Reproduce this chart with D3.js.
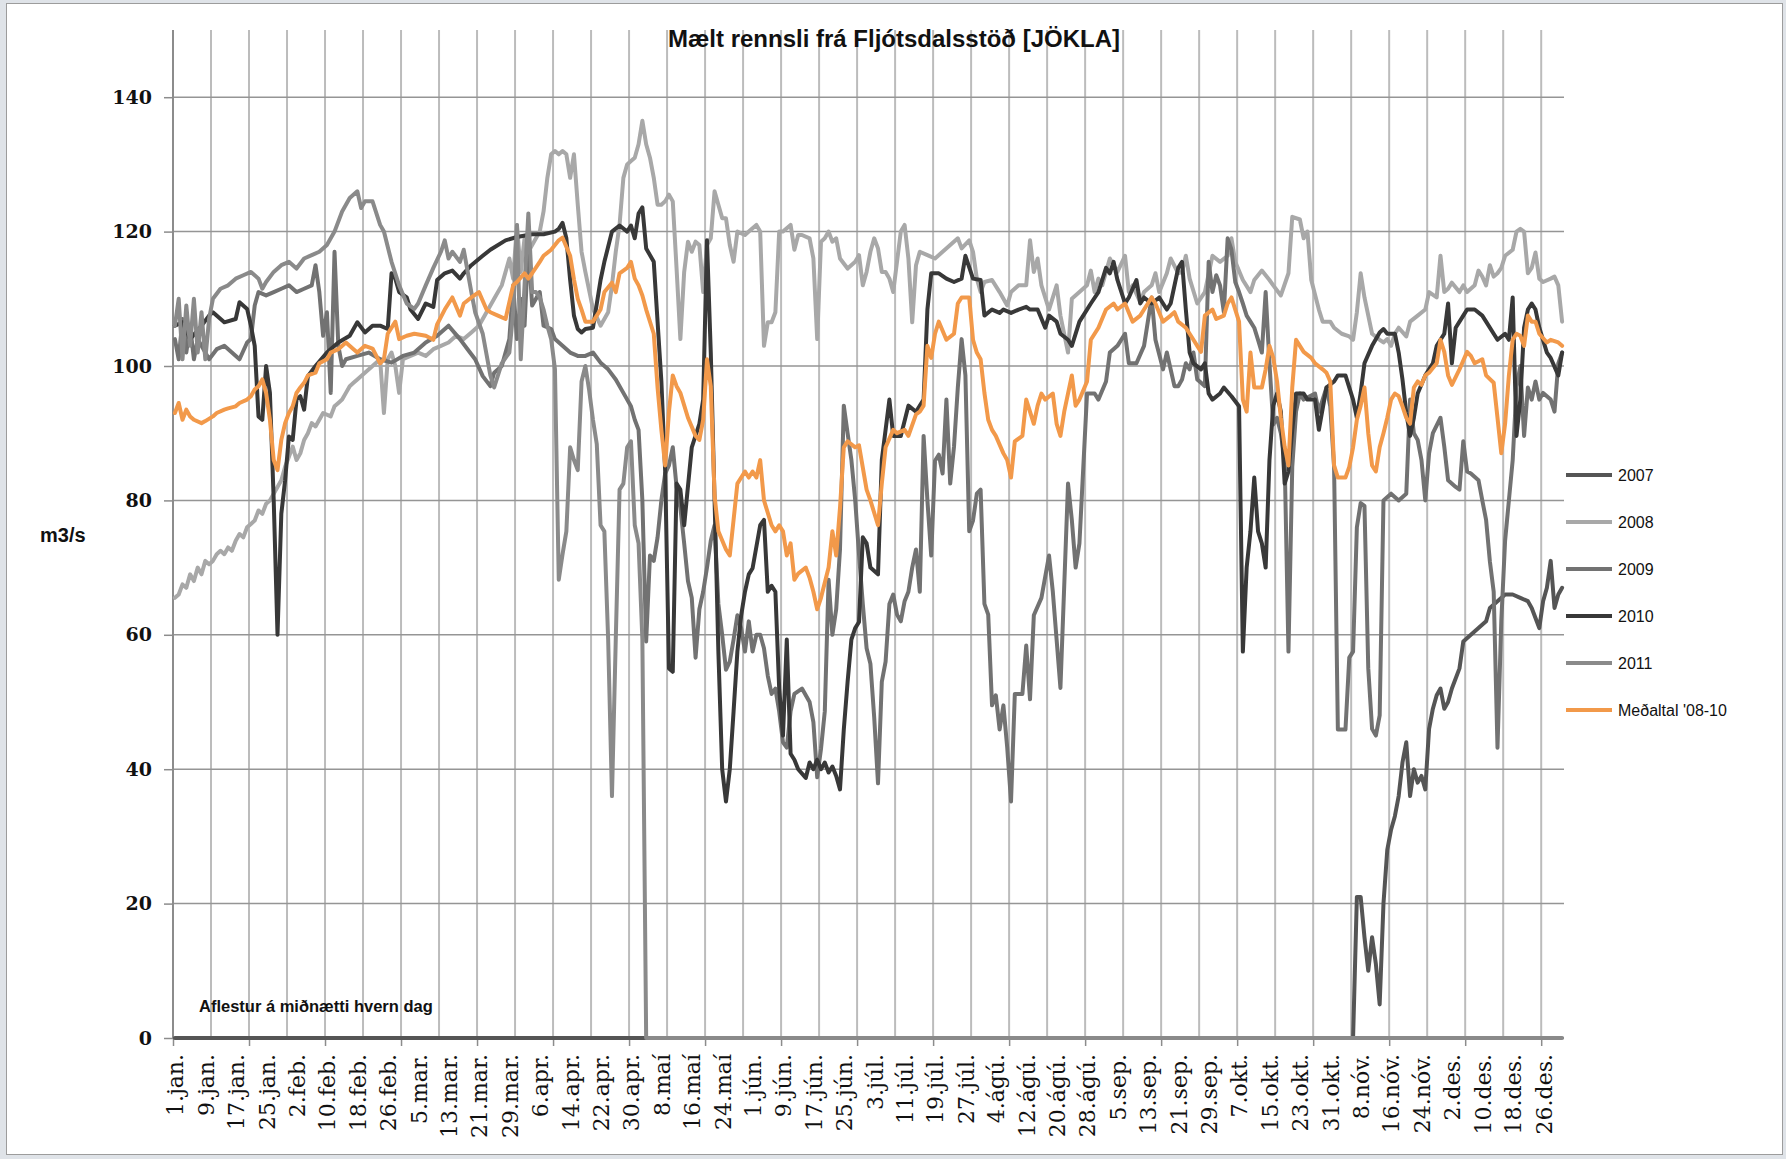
<!DOCTYPE html>
<html>
<head>
<meta charset="utf-8">
<script src="https://cdn.jsdelivr.net/npm/d3@7"></script>
<style>
  body { margin: 0; background: #dfe3e8; }
  svg { display: block; }
</style>
</head>
<body>
<svg id="chart" width="1786" height="1159"></svg>
<script>
// day index in a leap year (0 = 1.jan.), flow in m3/s
const s2007 = [[0,0],[310,0],[311,21],[312,21],[313,15],[314,10],[315,15],[316,11],[317,5],[318,20],[319,28],[320,31],[321,33],[322,36],[323,41],[324,44],[325,36],[326,40],[327,38],[328,39],[329,37],[330,46],[331,49],[332,51],[333,52],[334,49],[335,50],[336,52],[338,55],[339,59],[341,60],[343,61],[345,62],[346,64],[348,65],[350,66],[352,66],[354,65.5],[356,65],[357,64],[359,61],[360,65],[361,67],[362,71],[363,64],[364,66],[365,67]];

const s2008 = [[0,65.5],[1,66],[2,67.5],[3,67],[4,69],[5,68],[6,70],[7,69],[8,71],[9,70.5],[10,71],[11,72],[12,72.5],[13,72],[14,73],[15,72.5],[16,74],[17,75],[18,74.5],[19,76],[20,76.5],[21,77],[22,78.5],[23,78],[24,79.5],[25,80],[26,81],[27,82],[28,83],[29,85],[30,86.5],[31,88],[32,86],[33,87],[34,89],[35,90],[36,91.5],[37,91],[38,92],[39,93],[41,92.5],[42,94],[43,94.5],[44,95],[45,96],[46,97],[47,97.5],[48,98],[50,99],[52,100],[54,101],[55,93],[56,101],[57,102],[58,100],[59,96],[60,101],[62,101.5],[64,102],[66,101.5],[68,102.5],[70,103],[72,103.5],[74,104.5],[76,104],[78,105],[80,106],[82,108],[84,110],[86,112],[88,116],[89,113],[90,121],[91,114],[92,119],[93,117],[94,118],[95,119],[96,120],[97,123],[98,128],[99,131.5],[100,132],[101,131.5],[102,132],[103,131.5],[104,128],[105,131.5],[106,124],[107,117],[108,114],[110,108.5],[112,106],[114,108],[115,112],[116,117],[117,121],[118,128],[119,130],[120,130.5],[121,131],[122,133],[123,136.5],[124,133],[125,131],[126,128],[127,124],[128,124],[129,124.5],[130,125.5],[131,124.5],[132,114.5],[133,104],[134,114],[135,118.5],[136,117],[137,118.5],[138,118],[139,111],[140,118],[141,119],[142,126],[143,124],[144,122],[145,122],[146,118],[147,115.5],[148,120],[150,119.5],[151,120],[153,121],[154,120],[155,103],[156,106.5],[157,106.5],[158,108],[159,120],[160,120],[162,121],[163,117.3],[164,119.5],[165,119.5],[167,119],[168,116],[169,104],[170,118.5],[171,119],[172,120],[173,118.5],[174,119],[175,116],[177,114.5],[179,115.5],[180,116.5],[181,112],[182,114],[183,117],[184,119],[185,117.5],[186,114],[187,114],[188,113],[189,111],[190,115.5],[191,120],[192,121],[193,116],[194,106.5],[195,115],[196,117],[198,116.5],[200,116],[202,117],[204,118],[206,119],[207,117.5],[209,118.7],[210,117],[211,113],[212,111],[213,112.5],[215,112.8],[217,111],[219,109],[220,111],[222,112],[224,112],[225,118.7],[226,114],[227,116],[228,112],[230,108.4],[232,112],[233,107.5],[235,102],[236,110],[238,111],[240,112],[241,114.2],[242,111],[243,113],[244,112],[246,116],[247,115],[248,114],[250,116.4],[251,111],[252,112],[254,109.5],[255,111],[257,112],[258,113.8],[259,111],[261,113.8],[262,116],[264,113.8],[265,114],[266,116.4],[267,113],[269,109.3],[271,111],[273,116.4],[275,115.5],[277,116.4],[278,119],[279,115.5],[281,112.8],[283,111],[284,112.8],[286,114.2],[288,112.8],[289,112],[291,110.5],[293,113.8],[294,122.2],[296,121.8],[297,119],[298,120],[299,112.8],[301,108.4],[302,106.6],[304,106.6],[305,105.7],[307,104.8],[309,104.4],[310,103.9],[311,108],[312,113.8],[313,110.2],[315,104.8],[317,103.9],[318,103.5],[319,104],[320,103],[321,104.8],[322,105.7],[324,104.4],[325,106.6],[327,107.5],[329,108.4],[330,111],[332,110.2],[333,116.4],[334,111],[335,111.5],[336,112.4],[338,111],[339,112],[340,111],[342,112],[343,114.2],[344,113.3],[345,112],[346,115],[347,113.3],[348,113.8],[349,114.6],[350,116.4],[352,117.3],[353,120],[354,120.4],[355,120],[356,113.8],[357,114.6],[358,116.9],[359,113],[360,112.5],[362,113],[363,113.3],[364,112],[365,106.6]];

const s2009 = [[0,104],[1,101],[2,107],[3,102],[4,106],[5,101],[6,104],[7,103],[9,101],[11,102.5],[13,103],[15,102],[17,101],[19,103.5],[20,104],[21,109],[22,111],[24,110.5],[26,111],[28,111.5],[30,112],[32,111],[34,111.5],[36,112],[37,115],[38,111],[39,104.5],[40,108],[41,96],[42,117],[43,103],[44,100],[45,101],[48,101.5],[51,102],[54,101],[57,100.5],[60,101.5],[63,102],[66,103.5],[69,104.5],[72,106],[75,104],[77,102.5],[79,101],[81,98.5],[83,97],[84,99],[86,100],[88,104],[89,112],[90,104],[91,110],[92,106],[93,118],[94,109],[96,111],[97,106],[99,105.5],[100,104],[102,103],[104,102],[106,101.5],[108,101.5],[110,102],[112,100.5],[114,99.5],[116,98],[118,96],[120,94],[121,92],[122,90.5],[123,80],[124,59],[125,71.8],[126,71],[127,74.5],[128,80],[129,84],[130,85.2],[131,87.9],[132,82],[133,78.9],[134,73.6],[135,68],[136,65.5],[137,56.6],[138,63.8],[139,66.4],[140,70],[141,74],[142,76.3],[143,64.6],[144,60],[145,54.8],[146,56],[147,59.3],[148,62.9],[149,61],[150,57.5],[151,62],[152,57.5],[153,60],[154,60],[155,58],[156,53.9],[157,51.2],[158,52],[159,48.6],[160,44],[161,43.2],[162,48.6],[163,51.2],[165,52],[167,50],[168,47],[169,38.8],[170,43],[171,48.6],[172,68.2],[173,60],[174,63.8],[175,72.7],[176,94.1],[177,90],[178,86],[179,80],[180,72],[181,64.6],[182,58],[183,55.7],[184,47.7],[185,37.9],[186,53],[187,56],[188,64.6],[189,66],[190,63],[191,62],[192,65],[193,66.4],[194,70],[195,72.7],[196,66.4],[197,89.6],[198,80],[199,71.8],[200,85.9],[201,86.8],[202,84],[203,95],[204,82.5],[205,88],[206,96.8],[207,104],[208,98.6],[209,75.4],[210,77],[211,81],[212,81.6],[213,64.6],[214,63],[215,49.5],[216,51],[217,45.9],[218,49.5],[219,43.2],[220,35.2],[221,51.2],[223,51.2],[224,58.4],[225,50.4],[226,62.9],[228,65.5],[230,71.8],[231,66.4],[233,52.1],[235,82.5],[236,77.1],[237,70],[238,73.6],[240,95.9],[242,95.9],[243,95],[245,97.7],[246,102],[248,103],[250,104.8],[251,100.4],[253,100.4],[255,103],[256,106.6],[257,110.2],[258,103.9],[260,99.5],[261,102],[263,97],[264,97],[265,98],[266,100.4],[267,99.5],[268,102],[269,98],[270,97.5],[271,97],[272,115.5],[273,111],[274,113.5],[275,112],[276,108],[277,119],[278,117.3],[279,112.5],[280,111],[281,109.3],[282,107.5],[283,106.6],[284,105.7],[285,103.9],[286,102],[287,111],[288,100.4],[289,91.3],[290,92.3],[291,90],[292,86],[293,57.5],[294,85],[295,93.2],[296,95.9],[297,95],[300,95.9],[301,93.2],[303,96.8],[304,94],[305,85],[306,45.9],[308,45.9],[309,56.6],[310,57.5],[311,76],[312,79.6],[313,79.2],[314,55],[315,46],[316,45],[317,48],[318,80],[320,81],[322,80],[324,81],[325,95],[326,90],[327,89],[328,86],[329,80],[330,87],[331,90],[333,92.3],[334,88],[335,83],[337,82],[338,81.6],[339,88.8],[340,84.3],[341,84],[343,83],[344,80],[345,77.1],[346,70.9],[347,66.4],[348,43.2],[349,62],[350,74],[351,80],[352,86],[353,96.8],[354,100],[355,89.6],[356,96.8],[357,95],[358,97.7],[359,95],[360,96],[362,95],[363,93.2],[364,100.4],[365,102]];

const s2010 = [[0,106],[2,106.5],[4,104],[7,106],[9,107.5],[10,108],[13,106.5],[16,107],[17,109.5],[19,108.5],[20,106],[21,103],[22,92.5],[23,92],[24,100],[25,96],[26,80],[27,60],[28,78],[29,83],[30,89.5],[31,89],[32,95],[33,95.5],[34,93.5],[35,98.5],[37,100],[40,102],[43,103.5],[46,104.5],[48,106.5],[50,105],[52,106],[54,106],[56,105.5],[57,113.8],[58,113],[59,111],[61,110.2],[62,108.4],[64,107],[66,109.3],[68,108.8],[69,112.8],[71,113.8],[73,114.2],[75,113],[76,113.8],[78,115],[81,116.4],[83,117.3],[87,118.7],[90,119.2],[94,119.6],[97,119.6],[100,120],[101,120.4],[102,121.3],[103,119],[104,112.8],[105,107.5],[106,105.5],[107,105],[108,105.5],[110,105.7],[112,112.8],[113,115.5],[115,120],[117,120.9],[119,120],[120,120.9],[121,119],[122,122.7],[123,123.6],[124,117.5],[126,115.5],[127,106.6],[128,97.7],[129,84.3],[130,55],[131,54.5],[132,82.5],[133,81.6],[134,76.3],[136,87.9],[138,91.4],[139,95],[140,118.7],[141,102],[142,80],[143,57.5],[144,40],[145,35.2],[146,40],[147,48.6],[148,57.5],[149,62.9],[150,66.4],[151,69],[152,69.9],[154,76.3],[155,77.1],[156,66.4],[157,67.3],[158,66.4],[159,52],[160,45],[161,59.3],[162,42.3],[163,41.4],[164,40],[166,38.7],[167,41],[168,40],[169,41.4],[170,40],[171,41],[172,39.5],[173,40.4],[174,39],[175,37],[176,45.9],[177,53],[178,59.3],[179,61],[180,61.9],[181,74.5],[182,73.6],[183,70],[185,69],[186,86],[188,95],[189,89.6],[191,89.6],[193,94.1],[195,93.2],[197,95],[198,108.4],[199,113.8],[201,113.8],[203,113],[205,112.5],[207,113],[208,116.4],[210,113],[212,112.8],[213,107.5],[215,108.4],[217,107.9],[218,108.4],[220,107.9],[222,108.4],[224,108.8],[225,108.4],[227,108.4],[229,105.7],[230,107.5],[232,106.6],[233,104.8],[235,103.9],[236,103],[238,106.6],[239,107.5],[241,109.3],[243,111],[245,114.6],[246,113.8],[247,115.5],[248,112.8],[250,109.3],[251,110.2],[253,112.8],[254,109.3],[255,110.2],[257,109.3],[259,110.2],[261,108.4],[262,109.3],[264,114.6],[265,115.5],[266,108.4],[267,102],[268,100.4],[270,99.5],[271,100.4],[272,95.9],[273,95],[275,95.9],[276,96.8],[278,95.5],[280,94],[281,57.5],[282,70],[283,75.4],[284,83.4],[285,75.4],[286,73.6],[287,70],[288,86],[289,94.1],[290,95.9],[291,93.2],[292,82.5],[293,84.3],[294,90.5],[295,95.9],[297,95.9],[298,95],[300,95],[301,90.5],[303,96.8],[305,97.7],[306,98.6],[308,98.6],[310,95],[311,92.3],[312,96],[313,100.4],[315,103],[317,105],[318,105.5],[319,104.8],[321,104.8],[322,102],[323,98],[324,93],[325,89.6],[326,92.3],[327,95.9],[329,98.6],[331,100.4],[332,103],[334,104.8],[335,109.3],[336,100.4],[337,105.7],[339,107.5],[340,108.4],[342,108.4],[344,107.5],[345,106.6],[347,104.8],[348,103.9],[350,104.8],[351,103.9],[352,110.2],[353,89.6],[354,95],[355,105.7],[356,108.4],[357,109.3],[358,108.4],[359,105.7],[361,102],[362,101.2],[364,98.6],[365,102]];

const s2011 = [[0,106],[1,110],[2,101],[3,109],[4,103],[5,110],[6,102],[7,108],[8,101],[9,107],[10,110],[12,111.5],[14,112],[16,113],[18,113.5],[20,114],[22,113],[23,111.5],[24,112.5],[26,114],[28,115],[30,115.5],[32,114.5],[34,116],[36,116.5],[38,117],[40,118],[42,120],[44,123],[46,125],[48,126],[49,123.5],[50,124.5],[52,124.5],[54,121],[55,120],[57,115.5],[59,112],[61,109.3],[63,108.5],[64,109.3],[66,112],[68,114.6],[70,117],[71,118.7],[72,116],[73,117],[75,115.5],[76,117.3],[78,111],[79,108],[81,104.8],[83,98.6],[84,96.8],[86,100.4],[88,102],[89,108],[90,121],[91,101],[92,112],[93,122.7],[94,111],[95,111],[96,110.2],[97,108.4],[98,106],[99,104],[100,99.5],[101,68.2],[102,72],[103,75.4],[104,87.9],[105,86],[106,84.5],[107,97.7],[108,100],[109,96.4],[110,92],[111,88.4],[112,76.3],[113,75.4],[114,59.3],[115,36],[116,59.3],[117,81.6],[118,82.5],[119,87.9],[120,88.8],[121,76.3],[122,73.6],[123,59.3],[124,0],[365,0]];

const sAvg = [[0,93],[1,94.5],[2,92],[3,93.5],[4,92.5],[5,92],[7,91.5],[8,91.8],[10,92.5],[11,93],[13,93.5],[14,93.7],[16,94],[17,94.5],[19,95],[20,95.5],[21,96.5],[22,97],[23,98],[24,96],[25,92],[26,86],[27,84.5],[28,89],[29,91.5],[30,93],[31,94],[32,96],[33,96.8],[34,97.5],[35,98.6],[37,99],[38,100.4],[40,101],[41,102],[43,102.5],[45,103.5],[47,102.5],[48,102],[50,103],[52,102.6],[54,100.4],[55,101],[56,104.8],[58,106.6],[59,104],[61,104.5],[63,104.8],[66,104.5],[68,103.9],[69,106.2],[71,108.4],[73,110.2],[75,107.5],[76,109.3],[78,110.2],[80,111],[82,108.4],[83,108],[85,107.5],[87,107],[89,112],[90,112.5],[92,113.8],[93,113],[94,113.8],[96,115.5],[97,116.4],[99,117.3],[101,118.7],[102,119.1],[104,116.4],[105,112.9],[106,110],[107,108.4],[108,106.6],[110,106.6],[112,108.4],[113,111],[115,112.4],[116,111],[117,113.8],[119,114.6],[120,115.5],[121,113],[122,112],[123,110.5],[124,108.4],[126,104.8],[127,96.8],[128,90.5],[129,85.2],[130,93.2],[131,98.6],[132,97],[133,96],[135,92.3],[137,89.6],[138,89],[139,92],[140,101],[141,97],[142,80.7],[143,75.4],[145,72.7],[146,71.8],[147,77.1],[148,82.5],[149,83.4],[150,84.3],[151,83.4],[152,84.3],[153,83.4],[154,86],[155,80],[157,76.3],[158,75.4],[159,76.3],[160,75.4],[161,71.8],[162,73.6],[163,68.2],[164,69.1],[166,70],[167,68.5],[168,66.4],[169,63.8],[170,65.5],[172,70],[173,75.4],[174,71.8],[175,78.9],[176,87.9],[177,88.8],[179,87.9],[180,88.2],[182,81.6],[183,80],[185,76.3],[186,82.5],[187,87.9],[189,90.5],[190,90],[192,90.5],[193,89.6],[195,92.8],[196,93.2],[197,94.1],[198,103],[199,101.2],[200,104.8],[201,106.6],[203,103.9],[205,104.8],[206,109.3],[207,110.2],[209,110.2],[210,103.9],[211,102],[212,101],[213,96],[214,92],[215,90.5],[216,89.6],[218,87],[219,86],[220,83.4],[221,88.8],[223,89.6],[224,95],[226,91.4],[227,94.1],[228,95.9],[229,95],[231,95.9],[232,91.4],[233,89.6],[234,93.2],[236,98.6],[237,94.1],[238,95],[240,97.7],[241,103.9],[242,104.8],[243,105.7],[245,108.4],[247,109.3],[248,108.4],[250,109.3],[252,106.6],[254,107.5],[255,108.4],[257,110.2],[258,109.3],[260,106.6],[262,107.5],[263,108],[264,106.6],[266,105.7],[268,103.9],[269,103],[270,102.1],[271,107.5],[273,108.4],[274,107],[276,107.5],[277,109.3],[278,110.2],[279,108.4],[280,106.6],[281,95],[282,93.2],[283,102],[284,96.8],[286,96.8],[287,99.5],[288,103],[289,101.2],[290,97.7],[291,92.3],[292,88],[293,85.2],[294,96.8],[295,103.9],[296,103],[297,102.1],[299,101.2],[300,100.4],[302,99.5],[303,99],[304,97.7],[305,85.2],[306,83.4],[308,83.4],[309,85],[310,87.9],[311,92],[312,94.1],[313,96.8],[314,90],[315,85.2],[316,84.3],[317,87.9],[318,90],[319,92.3],[320,95],[321,95.9],[322,95.5],[323,94],[324,92.3],[325,91.4],[326,96.8],[327,97.7],[328,97.2],[329,98.6],[330,99],[332,100.4],[333,103.9],[334,102.1],[335,98.6],[336,97.2],[338,99.5],[340,102.1],[341,101.5],[342,100.4],[344,101],[345,98.6],[347,97.5],[348,92.3],[349,87],[350,91.4],[351,98.6],[352,103.9],[353,104.8],[354,104.5],[355,103],[356,107.5],[357,106.6],[358,106.6],[359,104.8],[361,103.5],[362,103.9],[364,103.5],[365,103]];

const seriesNames = ["2007", "2008", "2009", "2010", "2011", "Meðaltal '08-10"];
const yTicks = [0, 20, 40, 60, 80, 100, 120, 140];
const dateLabels = ["1.jan.","9.jan.","17.jan.","25.jan.","2.feb.","10.feb.","18.feb.","26.feb.","5.mar.","13.mar.","21.mar.","29.mar.","6.apr.","14.apr.","22.apr.","30.apr.","8.maí","16.maí","24.maí","1.jún.","9.jún.","17.jún.","25.jún.","3.júl.","11.júl.","19.júl.","27.júl.","4.ágú.","12.ágú.","20.ágú.","28.ágú.","5.sep.","13.sep.","21.sep.","29.sep.","7.okt.","15.okt.","23.okt.","31.okt.","8.nóv.","16.nóv.","24.nóv.","2.des.","10.des.","18.des.","26.des."];

const colors = ["#555555", "#a8a8a8", "#727272", "#383838", "#8a8a8a", "#f2994a"];
const seriesData = [s2007, s2008, s2009, s2010, s2011, sAvg];

const svg = d3.select("#chart");
const plotLeft = 173, plotRight = 1564, plotTop = 30, plotBottom = 1038;

// frame
svg.append("rect")
  .attr("x", 6.5).attr("y", 3.5)
  .attr("width", 1776).attr("height", 1151)
  .attr("fill", "white").attr("stroke", "#9c9c9c").attr("stroke-width", 1);

const x = d3.scaleLinear().domain([0, 366]).range([plotLeft, plotRight]);
const y = d3.scaleLinear().domain([0, 150]).range([plotBottom, plotTop]);

// vertical gridlines every 10 days
svg.append("g")
  .selectAll("line")
  .data(d3.range(10, 361, 10))
  .enter()
  .append("line")
  .attr("x1", d => x(d)).attr("x2", d => x(d))
  .attr("y1", plotTop).attr("y2", plotBottom)
  .attr("stroke", "#bcbcbc")
  .attr("stroke-width", 2);

// horizontal gridlines
svg.append("g")
  .selectAll("line")
  .data(yTicks.slice(1))
  .enter()
  .append("line")
  .attr("x1", plotLeft).attr("x2", plotRight)
  .attr("y1", d => y(d)).attr("y2", d => y(d))
  .attr("stroke", "#959595")
  .attr("stroke-width", 1.5);

// y axis
const yAxis = svg.append("g")
  .attr("transform", `translate(${plotLeft},0)`)
  .call(d3.axisLeft(y).tickValues(yTicks).tickSize(9).tickPadding(12));
yAxis.select(".domain").attr("stroke", "#8c8c8c").attr("stroke-width", 2).attr("d", `M0,${plotTop}V${plotBottom}`);
yAxis.selectAll(".tick line").attr("stroke", "#8c8c8c").attr("stroke-width", 1.5);
yAxis.selectAll("text")
  .attr("font-family", "'DejaVu Serif', serif")
  .attr("font-weight", "bold")
  .attr("font-size", "19px")
  .attr("fill", "#111");

// x axis tick marks every 20 days
const xAxis = svg.append("g")
  .attr("transform", `translate(0,${plotBottom})`)
  .call(d3.axisBottom(x).tickValues(d3.range(0, 361, 20)).tickSize(8).tickFormat(""));
xAxis.select(".domain").attr("stroke", "#8c8c8c").attr("stroke-width", 2).attr("d", `M${plotLeft},0H${plotRight}`);
xAxis.selectAll(".tick line").attr("stroke", "#8c8c8c").attr("stroke-width", 1.5);

// x labels every 8 days
const labelAxis = svg.append("g")
  .attr("transform", `translate(0,${plotBottom})`)
  .call(d3.axisBottom(x)
    .tickValues(dateLabels.map((d, i) => i * 8 + 0.5))
    .tickSize(0)
    .tickFormat((d, i) => dateLabels[i]));
labelAxis.select(".domain").remove();
labelAxis.selectAll("text")
  .attr("transform", "rotate(-90)")
  .attr("text-anchor", "end")
  .attr("x", -16)
  .attr("y", 0)
  .attr("dy", "0.36em")
  .attr("font-family", "'DejaVu Serif', serif")
  .attr("font-size", "22px")
  .attr("fill", "#111");

// series lines
const line = d3.line()
  .x(d => x(d[0] + 0.5))
  .y(d => y(d[1]));

svg.append("g")
  .selectAll("path")
  .data(seriesData)
  .enter()
  .append("path")
  .attr("d", d => line(d))
  .attr("fill", "none")
  .attr("stroke", (d, i) => colors[i])
  .attr("stroke-width", 4)
  .attr("stroke-linejoin", "round")
  .attr("stroke-linecap", "round");

// title
svg.append("text")
  .attr("x", 894).attr("y", 47)
  .attr("text-anchor", "middle")
  .attr("font-family", "'Liberation Sans', Arial, sans-serif")
  .attr("font-weight", "bold")
  .attr("font-size", "24px")
  .attr("fill", "#111")
  .text("Mælt rennsli frá Fljótsdalsstöð [JÖKLA]");

// y axis title
svg.append("text")
  .attr("x", 40).attr("y", 542)
  .attr("font-family", "'Liberation Sans', Arial, sans-serif")
  .attr("font-weight", "bold")
  .attr("font-size", "20px")
  .attr("fill", "#111")
  .text("m3/s");

// note
svg.append("text")
  .attr("x", 199).attr("y", 1012)
  .attr("font-family", "'Liberation Sans', Arial, sans-serif")
  .attr("font-weight", "bold")
  .attr("font-size", "16.5px")
  .attr("fill", "#111")
  .text("Aflestur á miðnætti hvern dag");

// legend
const legend = svg.append("g")
  .selectAll("g")
  .data(seriesNames)
  .enter()
  .append("g")
  .attr("transform", (d, i) => `translate(1566,${475 + i * 47})`);

legend.append("line")
  .attr("x1", 0).attr("x2", 46)
  .attr("stroke", (d, i) => colors[i])
  .attr("stroke-width", 4);

legend.append("text")
  .attr("x", 52).attr("y", 6)
  .attr("font-family", "'Liberation Sans', Arial, sans-serif")
  .attr("font-size", "16px")
  .attr("fill", "#111")
  .text(d => d);
</script>
</body>
</html>
